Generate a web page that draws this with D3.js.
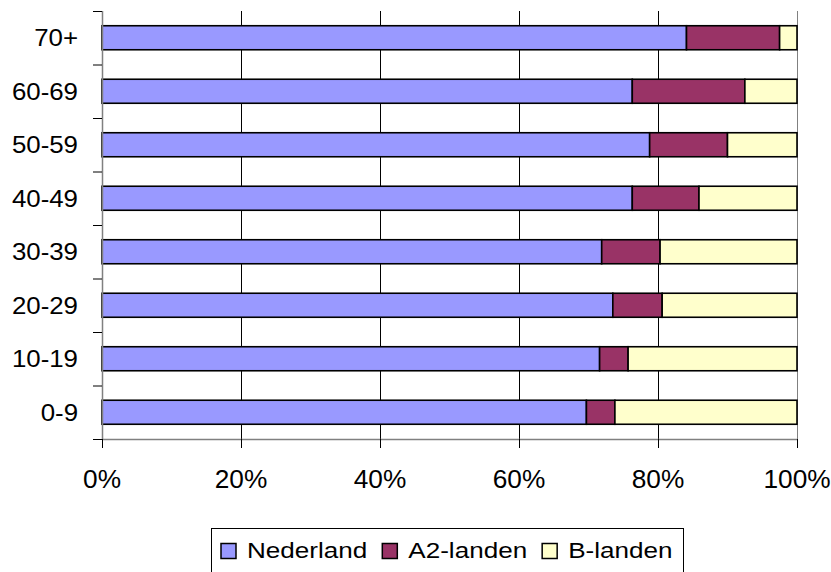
<!DOCTYPE html>
<html><head><meta charset="utf-8">
<script src="https://cdn.jsdelivr.net/npm/d3@7"></script>
<style>body{margin:0;background:#fff}svg{display:block}text{font-family:"Liberation Sans",Arial,sans-serif;fill:#000}</style>
</head><body><svg id="c" width="831" height="572"></svg>
<script>
const categories = ["70+","60-69","50-59","40-49","30-39","20-29","10-19","0-9"];
const nederland = [84.1, 76.3, 78.8, 76.3, 71.9, 73.5, 71.6, 69.7];
const a2landen  = [13.4, 16.2, 11.2,  9.6,  8.4,  7.1,  4.1,  4.1];
const blanden   = [ 2.5,  7.5, 10.0, 14.1, 19.7, 19.4, 24.3, 26.2];
const seriesNames = ["Nederland","A2-landen","B-landen"];
const seriesColors = ["#9999FF","#993366","#FFFFCC"];
const xTicks = [0,0.2,0.4,0.6,0.8,1.0];

const svg = d3.select("#c");
const L=102, R=797, T=11, B=439;
const x = d3.scaleLinear().domain([0,1]).range([L,R]);
const y = d3.scaleBand().domain(categories).range([T,B]).paddingInner(0.551).paddingOuter(0.2755);
const band = (B-T)/categories.length;

// gridlines
svg.append("g").selectAll("line").data(xTicks.slice(1)).join("line")
  .attr("x1",d=>x(d)+0.5).attr("x2",d=>x(d)+0.5).attr("y1",T).attr("y2",B)
  .attr("stroke",d=>d===1?"#808080":"#000").attr("stroke-width",1);

// stacked data
const rows = categories.map((c,i)=>({cat:c, Nederland:nederland[i], "A2-landen":a2landen[i], "B-landen":blanden[i]}));
rows.forEach(r=>{const t=r.Nederland+r["A2-landen"]+r["B-landen"]; seriesNames.forEach(s=>r[s]=r[s]/t);});
const stack = d3.stack().keys(seriesNames)(rows);
svg.append("g").selectAll("g").data(stack).join("g")
  .attr("fill",(d,i)=>seriesColors[i])
  .selectAll("rect").data(d=>d).join("rect")
  .attr("x",d=>x(d[0])).attr("width",d=>x(d[1])-x(d[0]))
  .attr("y",d=>y(d.data.cat)).attr("height",y.bandwidth())
  .attr("stroke","#000").attr("stroke-width",1.6);

// axes lines
svg.append("line").attr("x1",L+0.5).attr("x2",L+0.5).attr("y1",T).attr("y2",B).attr("stroke","#808080").attr("stroke-width",1.5);
svg.append("line").attr("x1",L).attr("x2",R).attr("y1",B+0.5).attr("y2",B+0.5).attr("stroke","#808080").attr("stroke-width",1.5);
// y ticks (category boundaries)
svg.append("g").selectAll("line").data(d3.range(categories.length+1)).join("line")
  .attr("x1",L-9).attr("x2",L).attr("y1",i=>T+i*band+0.5).attr("y2",i=>T+i*band+0.5).attr("stroke","#000");
// x ticks
svg.append("g").selectAll("line").data(xTicks).join("line")
  .attr("x1",d=>x(d)+0.5).attr("x2",d=>x(d)+0.5).attr("y1",B).attr("y2",B+9).attr("stroke","#000");

// y labels
const yfs=23.5;
svg.append("g").selectAll("text").data(categories).join("text")
  .attr("transform",d=>`translate(${L-24},${y(d)+y.bandwidth()/2+0.36*yfs}) scale(1.1,1)`)
  .attr("text-anchor","end").style("font-size",yfs+"px").text(d=>d);
// x labels
const xfs=25;
const fmt=d3.format(".0%");
svg.append("g").selectAll("text").data(xTicks).join("text")
  .attr("transform",d=>`translate(${x(d)},487.5) scale(1.05,1)`)
  .attr("text-anchor","middle").style("font-size",xfs+"px").text(d=>fmt(d));

// legend
svg.append("rect").attr("x",211.5).attr("y",528.5).attr("width",472).attr("height",60)
  .attr("fill","#fff").attr("stroke","#000").attr("stroke-width",1);
const lfs=22.3, sx=1.17;
let cx=221;
seriesNames.forEach((s,i)=>{
  svg.append("rect").attr("x",cx).attr("y",543.5).attr("width",15).attr("height",15)
    .attr("fill",seriesColors[i]).attr("stroke","#000").attr("stroke-width",1.5);
  const t=svg.append("text").attr("transform",`translate(${cx+26},557.5) scale(${sx},1)`)
    .style("font-size",lfs+"px").text(s);
  const w=t.node().getComputedTextLength()*sx;
  cx += 26 + w + 15;
});
</script></body></html>
